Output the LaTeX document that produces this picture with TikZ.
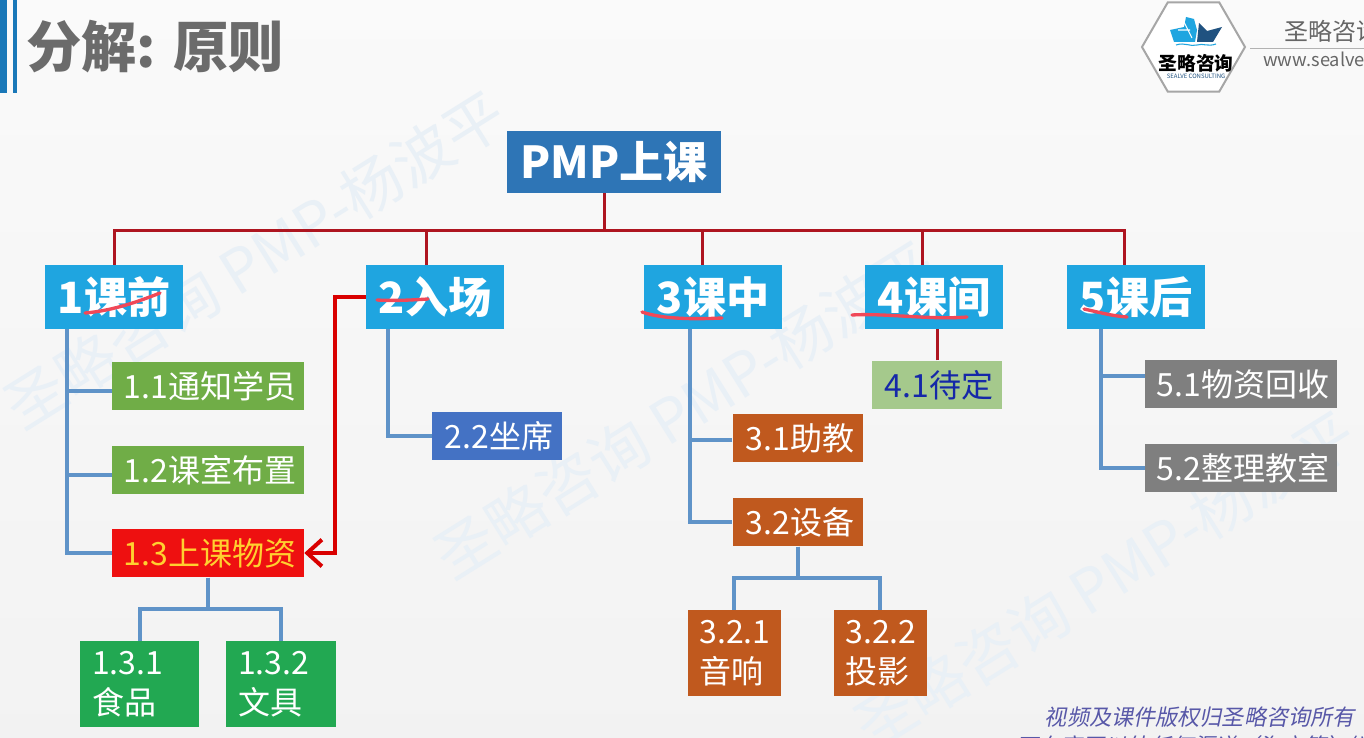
\documentclass[tikz,border=0pt]{standalone}
\usepackage{fontspec}
\setmainfont{Noto Sans CJK SC}
\newfontfamily\slantcjk[FakeSlant=0.2]{Noto Sans CJK SC}
\usetikzlibrary{arrows,arrows.meta,shapes.geometric}
\definecolor{headblue}{HTML}{2E75B6}
\definecolor{barblue}{HTML}{1A78B8}
\definecolor{stageblue}{HTML}{1FA5E0}
\definecolor{taskgreen}{HTML}{70AD47}
\definecolor{leafgreen}{HTML}{22A852}
\definecolor{taskorange}{HTML}{C0591E}
\definecolor{seatblue}{HTML}{4472C4}
\definecolor{taskgrey}{HTML}{7F7F7F}
\definecolor{paleolive}{HTML}{A5C98C}
\definecolor{alarmred}{HTML}{EE1010}
\definecolor{goldtext}{HTML}{FFD030}
\definecolor{inkblue}{HTML}{1528A8}
\definecolor{linkred}{HTML}{AE1520}
\definecolor{linkblue}{HTML}{5F93C8}
\definecolor{penred}{HTML}{F04858}
\definecolor{markblue}{HTML}{E9F0F6}
\definecolor{noteblue}{HTML}{5858A8}
\begin{document}
\begin{tikzpicture}[x=.75pt,y=-.75pt,
    stagebox/.style={fill=stageblue,text=white,font=\fontsize{32.3}{38}\selectfont\bfseries,minimum width=103.5pt,minimum height=48pt,inner sep=0pt},
    taskbox/.style={fill=#1,text=white,font=\fontsize{24}{29}\selectfont,minimum height=36.5pt,inner sep=0pt,execute at begin node=\hspace*{3pt}},
    leafbox/.style={fill=#1,text=white,font=\fontsize{24}{29}\selectfont,minimum height=64pt,inner xsep=9pt,inner ysep=0pt,align=left},
    treelink/.style={draw=linkred,line width=2.25pt},
    sublink/.style={draw=linkblue,line width=3pt},
    penmark/.style={draw=penred,line width=2.5pt,line cap=round},
    watermark/.style={text=markblue,font=\fontsize{45}{50}\selectfont,rotate=32}]
    \useasboundingbox (0,0) rectangle (1364,738);
    \clip (0,0) rectangle (1364,738);
    \shade[top color=black!2,bottom color=black!5] (0,0) rectangle (1364,738);

    \node[watermark] (mark1) at (255,260) {圣略咨询 PMP-杨波平};
    \node[watermark] (mark2) at (685,410) {圣略咨询 PMP-杨波平};
    \node[watermark] (mark3) at (1105,580) {圣略咨询 PMP-杨波平};

    \fill[barblue] (0,0) rectangle (7,93);
    \fill[barblue] (13,0) rectangle (17,93);
    \node[text=black!58,font=\fontsize{41.5}{46}\selectfont\bfseries,anchor=west,inner sep=0pt] (title) at (26,47) {分解: 原则};

    \node[regular polygon,regular polygon sides=6,draw=black!35,line width=1.5pt,fill=white,minimum size=77.25pt,inner sep=0pt] (logo) at (1193.5,47) {};
    \fill[stageblue] (1170,30) -- (1184,27) -- (1186,17) -- (1194,19) -- (1197,30) -- (1195,42) -- (1174,42) -- cycle;
    \fill[headblue!70!black] (1197,42) -- (1199,23) -- (1207,31) -- (1222,27) -- (1213,42) -- cycle;
    \draw[white,line width=.8pt] (1178,30) -- (1190,30) (1184,22) -- (1192,38);
    \draw[stageblue,line width=.8pt] (1176,45) .. controls (1185,42) and (1190,47) .. (1197,45) .. controls (1203,43) and (1208,47) .. (1216,44);
    \node[font=\fontsize{14}{16}\selectfont\bfseries,inner sep=0pt] (logotext) at (1196,63) {圣略咨询};
    \node[text=headblue!70!black,font=\fontsize{4.5}{5}\selectfont,inner sep=0pt] (logosub) at (1196,76) {SEALVE CONSULTING};
    \node[text=black!60,font=\fontsize{18}{22}\selectfont,anchor=west,inner sep=0pt] (brand) at (1284,31) {圣略咨询};
    \node[text=black!60,font=\fontsize{13.7}{16}\selectfont,anchor=west,inner sep=0pt] (site) at (1263,59) {www.sealve};
    \draw[black!30] (1250,48) -- (1364,48);

    \node[fill=headblue,text=white,font=\fontsize{33}{38}\selectfont\bfseries,minimum width=160pt,minimum height=46.5pt,inner sep=0pt] (root) at (614,162) {PMP上课};
    \node[stagebox] (one) at (114,297) {1课前};
    \node[stagebox] (two) at (435,297) {2入场};
    \node[stagebox] (three) at (713,297) {3课中};
    \node[stagebox] (four) at (934,297) {4课间};
    \node[stagebox] (five) at (1136,297) {5课后};

    \node[taskbox=taskgreen,minimum width=144pt] (notify) at (208,386) {1.1通知学员};
    \node[taskbox=taskgreen,minimum width=144pt] (room) at (208,470) {1.2课室布置};
    \node[taskbox=alarmred,text=goldtext,minimum width=144pt] (goods) at (208,553) {1.3上课物资};
    \node[leafbox=leafgreen,text width=71.25pt] (food) at (139.5,684) {1.3.1\\[1pt]食品};
    \node[leafbox=leafgreen,text width=64.5pt] (paper) at (281,684) {1.3.2\\[1pt]文具};
    \node[taskbox=seatblue,minimum width=97.5pt] (seat) at (497,436) {2.2坐席};
    \node[taskbox=taskorange,minimum width=98pt] (helper) at (798,438) {3.1助教};
    \node[taskbox=taskorange,minimum width=98pt] (device) at (798,522) {3.2设备};
    \node[leafbox=taskorange,text width=51.75pt] (sound) at (734,653) {3.2.1\\[1pt]音响};
    \node[leafbox=taskorange,text width=51.75pt] (screen) at (880,653) {3.2.2\\[1pt]投影};
    \node[taskbox=paleolive,text=inkblue,minimum width=97.5pt] (tbd) at (937,385) {4.1待定};
    \node[taskbox=taskgrey,minimum width=144pt] (collect) at (1241,384) {5.1物资回收};
    \node[taskbox=taskgrey,minimum width=144pt] (tidy) at (1241,468) {5.2整理教室};

    \coordinate (bus) at (604,231);
    \draw[treelink] ([xshift=-7.5pt]root.south) -- (bus);
    \draw[treelink] (one.north) |- (bus) -| ([xshift=-9pt]five.north);
    \draw[treelink] ([xshift=-6.75pt]two.north) -- ([xshift=-6.75pt]two.north |- bus);
    \draw[treelink] ([xshift=-8.25pt]three.north) -- ([xshift=-8.25pt]three.north |- bus);
    \draw[treelink] ([xshift=-9pt]four.north) -- ([xshift=-9pt]four.north |- bus);
    \draw[treelink] (tbd.north) -- (tbd.north |- four.south);

    \draw[sublink] ([xshift=16.5pt]one.south west) |- (goods.west);
    \draw[sublink] (notify.west) ++(0,5) -- +(-45,0);
    \draw[sublink] (room.west) ++(0,5) -- +(-45,0);
    \draw[sublink] ([xshift=16.5pt]two.south west) |- (seat.west);
    \draw[sublink] ([xshift=34.5pt]three.south west) |- (device.west);
    \draw[sublink] (helper.west) ++(0,2) -- +(-43,0);
    \draw[sublink] ([xshift=25.5pt]five.south west) |- (tidy.west);
    \draw[sublink] (collect.west) ++(0,-8) -- +(-43,0);
    \draw[sublink] (goods.south) -- +(0,31) -| (food.north);
    \draw[sublink] (goods.south) -- +(0,31) -| (paper.north);
    \draw[sublink] (device.south) -- +(0,31) -| (sound.north);
    \draw[sublink] (device.south) -- +(0,31) -| (screen.north);

    \draw[draw=red!85!black,line width=3pt,-{Straight Barb[length=11pt,width=20pt]}] (two.west) -- (335,297) |- (goods.east);

    \draw[penmark] (85,313) .. controls (110,311) and (135,303) .. (160,293);
    \draw[penmark] (377,300) .. controls (395,301) and (412,300) .. (428,299);
    \draw[penmark] (642,312) .. controls (665,320) and (700,319) .. (722,318);
    \draw[penmark] (852,315) .. controls (885,313) and (930,320) .. (967,317);
    \draw[penmark] (1084,309) .. controls (1098,312) and (1112,316) .. (1127,317);

    \node[text=noteblue,font=\fontsize{16.6}{20}\slantcjk,anchor=east,inner sep=0pt] (notice) at (1355,717) {视频及课件版权归圣略咨询所有};
    \node[text=noteblue,font=\fontsize{16.6}{20}\slantcjk,anchor=west,inner sep=0pt] (noticeb) at (1016,746) {不在官网以外任何渠道（淘宝等）销};
\end{tikzpicture}
\end{document}
